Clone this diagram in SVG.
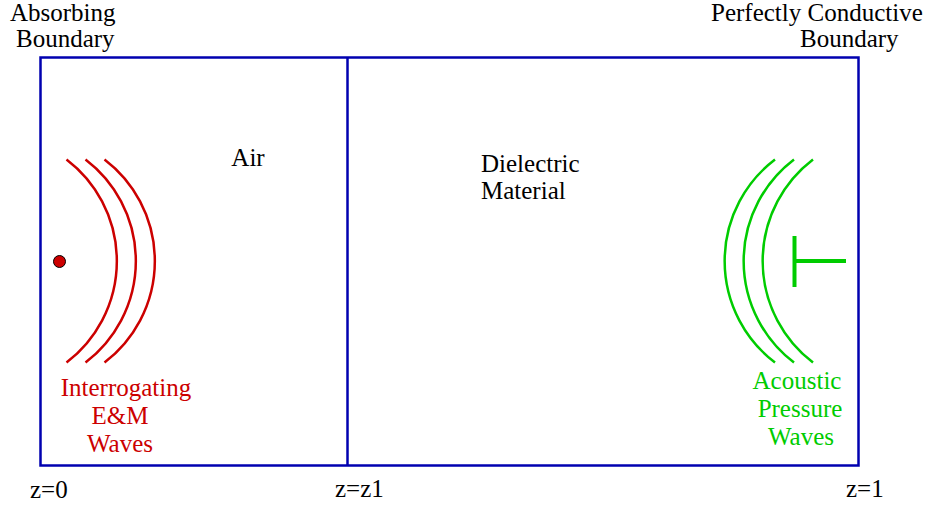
<svg xmlns="http://www.w3.org/2000/svg" width="932" height="508" viewBox="0 0 932 508">
<style>
text{font-family:"Liberation Serif","Times New Roman",serif;font-size:25px}
.k{fill:#000}
.r{fill:#cc0000}
.g{fill:#00cc00}
.box{fill:none;stroke:#0000b0;stroke-width:2.5}
.ra{fill:none;stroke:#cc0000;stroke-width:2.5}
.ga{fill:none;stroke:#00cc00;stroke-width:2.5}
</style>
<rect width="932" height="508" fill="#fff"/>
<g id="domain">
<rect class="box" x="40.5" y="57.5" width="818" height="408"/>
<line class="box" x1="347.5" y1="57.5" x2="347.5" y2="465.5"/>
</g>
<g id="labels-top">
<text class="k" x="10" y="21">Absorbing</text>
<text class="k" x="16" y="47">Boundary</text>
<text class="k" x="711" y="21">Perfectly Conductive</text>
<text class="k" x="800" y="47">Boundary</text>
</g>
<g id="air"><text class="k" x="248" y="166" text-anchor="middle">Air</text></g>
<g id="dielectric">
<text class="k" x="481" y="172">Dielectric</text>
<text class="k" x="481" y="199">Material</text>
</g>
<g id="em-waves">
<circle cx="59.5" cy="261.5" r="6" fill="#cc0000" stroke="#000" stroke-width="1"/>
<path class="ra" d="M66.5,159.5 A127.5,127.5 0 0 1 66.5,362.5"/>
<path class="ra" d="M85.5,159.5 A127.5,127.5 0 0 1 85.5,362.5"/>
<path class="ra" d="M104.5,159.5 A127.5,127.5 0 0 1 104.5,362.5"/>
<text class="r" x="126" y="396" text-anchor="middle">Interrogating</text>
<text class="r" x="120" y="424" text-anchor="middle">E&amp;M</text>
<text class="r" x="120" y="452" text-anchor="middle">Waves</text>
</g>
<g id="acoustic-waves">
<path class="ga" d="M775,159.5 A127.5,127.5 0 0 0 775,362.5"/>
<path class="ga" d="M794,159.5 A127.5,127.5 0 0 0 794,362.5"/>
<path class="ga" d="M813,159.5 A127.5,127.5 0 0 0 813,362.5"/>
<line x1="794.5" y1="236" x2="794.5" y2="287" stroke="#00cc00" stroke-width="4"/>
<line x1="794.5" y1="261" x2="846" y2="261" stroke="#00cc00" stroke-width="4"/>
<text class="g" x="797" y="389" text-anchor="middle">Acoustic</text>
<text class="g" x="800" y="417" text-anchor="middle">Pressure</text>
<text class="g" x="801" y="445" text-anchor="middle">Waves</text>
</g>
<g id="axis-labels">
<text class="k" x="30" y="498">z=0</text>
<text class="k" x="335" y="497">z=z1</text>
<text class="k" x="846" y="497">z=1</text>
</g>
</svg>
